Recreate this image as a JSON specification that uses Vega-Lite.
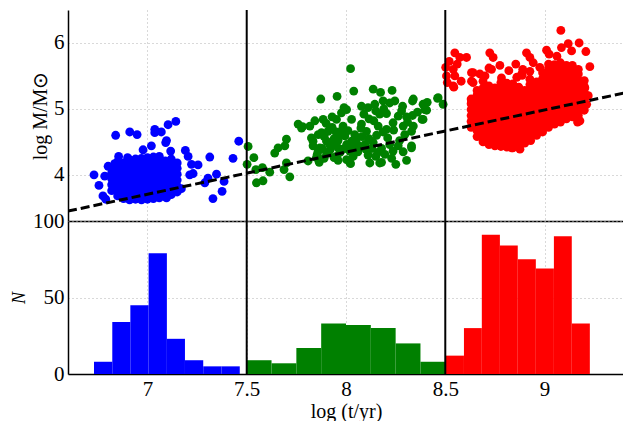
{
"$schema": "https://vega.github.io/schema/vega-lite/v6.json",
"background": "white",
"padding": {"left": 10, "top": 9, "right": 0, "bottom": 0},
"spacing": 0,
"bounds": "flush",
"config": {
  "view": {"stroke": null},
  "axis": {"domainColor": "black", "domainWidth": 1.5, "ticks": false, "grid": true, "gridColor": "#b3b3b3", "gridDash": [1, 3], "gridWidth": 1,
    "labelFont": "Liberation Serif", "labelFontSize": 21, "labelColor": "black",
    "titleFont": "Liberation Serif", "titleFontSize": 20, "titleFontWeight": "normal", "titleColor": "black"}
},
"datasets": {
  "splits": [{"b": 7.5}, {"b": 8.5}],
  "fit": [{"t": 6.6, "m": 3.45}, {"t": 9.4, "m": 5.24}],
  "hist": [
    {"t": 6.731, "t2": 6.823, "n": 8}, {"t": 6.823, "t2": 6.914, "n": 34}, {"t": 6.914, "t2": 7.006, "n": 45}, {"t": 7.006, "t2": 7.098, "n": 79},
    {"t": 7.098, "t2": 7.189, "n": 23}, {"t": 7.189, "t2": 7.281, "n": 9}, {"t": 7.281, "t2": 7.373, "n": 5}, {"t": 7.373, "t2": 7.465, "n": 5},
    {"t": 7.5, "t2": 7.625, "n": 9}, {"t": 7.625, "t2": 7.75, "n": 7}, {"t": 7.75, "t2": 7.875, "n": 17}, {"t": 7.875, "t2": 8.0, "n": 33},
    {"t": 8.0, "t2": 8.125, "n": 32}, {"t": 8.125, "t2": 8.25, "n": 30}, {"t": 8.25, "t2": 8.375, "n": 20}, {"t": 8.375, "t2": 8.5, "n": 8},
    {"t": 8.503, "t2": 8.594, "n": 12}, {"t": 8.594, "t2": 8.684, "n": 30}, {"t": 8.684, "t2": 8.775, "n": 91}, {"t": 8.775, "t2": 8.865, "n": 84},
    {"t": 8.865, "t2": 8.956, "n": 75}, {"t": 8.956, "t2": 9.047, "n": 69}, {"t": 9.047, "t2": 9.137, "n": 90}, {"t": 9.137, "t2": 9.228, "n": 33}
  ],
  "pts": [
    {"t":6.731,"m":4.00},{"t":6.756,"m":3.84},{"t":6.776,"m":3.68},{"t":6.79,"m":3.63},{"t":6.785,"m":3.98},{"t":6.802,"m":4.13},{"t":6.835,"m":4.17},{"t":6.84,"m":4.60},{"t":6.855,"m":4.28},{"t":6.90,"m":4.26},
    {"t":6.911,"m":4.65},{"t":6.948,"m":4.61},{"t":6.978,"m":4.38},{"t":7.02,"m":4.44},{"t":7.037,"m":4.64},{"t":7.07,"m":4.65},{"t":7.104,"m":4.76},{"t":7.143,"m":4.81},{"t":7.092,"m":4.49},{"t":7.117,"m":4.36},
    {"t":7.096,"m":4.52},{"t":7.191,"m":4.37},{"t":7.205,"m":4.28},{"t":7.222,"m":4.16},{"t":7.255,"m":4.15},{"t":7.314,"m":4.27},{"t":7.431,"m":4.25},{"t":7.46,"m":4.51},{"t":7.213,"m":4.00},{"t":7.23,"m":4.02},
    {"t":7.305,"m":3.95},{"t":7.348,"m":4.01},{"t":7.289,"m":3.88},{"t":7.386,"m":3.90},{"t":7.376,"m":3.75},{"t":7.33,"m":3.64},{"t":7.171,"m":3.79},{"t":7.138,"m":3.83},{"t":7.096,"m":3.65},{"t":7.037,"m":4.69},
    {"t":6.82,"m":3.76},{"t":6.82,"m":3.85},{"t":6.82,"m":3.94},{"t":6.82,"m":4.03},{"t":6.82,"m":4.10},
    {"t":6.85,"m":3.68},{"t":6.85,"m":3.77},{"t":6.85,"m":3.86},{"t":6.85,"m":3.95},{"t":6.85,"m":4.04},{"t":6.85,"m":4.13},{"t":6.85,"m":4.20},
    {"t":6.88,"m":3.64},{"t":6.88,"m":3.73},{"t":6.88,"m":3.82},{"t":6.88,"m":3.91},{"t":6.88,"m":4.00},{"t":6.88,"m":4.09},{"t":6.88,"m":4.18},
    {"t":6.91,"m":3.62},{"t":6.91,"m":3.71},{"t":6.91,"m":3.80},{"t":6.91,"m":3.89},{"t":6.91,"m":3.98},{"t":6.91,"m":4.07},{"t":6.91,"m":4.16},{"t":6.91,"m":4.23},
    {"t":6.94,"m":3.63},{"t":6.94,"m":3.72},{"t":6.94,"m":3.81},{"t":6.94,"m":3.90},{"t":6.94,"m":3.99},{"t":6.94,"m":4.08},{"t":6.94,"m":4.17},{"t":6.94,"m":4.24},
    {"t":6.97,"m":3.62},{"t":6.97,"m":3.71},{"t":6.97,"m":3.80},{"t":6.97,"m":3.89},{"t":6.97,"m":3.98},{"t":6.97,"m":4.07},{"t":6.97,"m":4.16},{"t":6.97,"m":4.25},
    {"t":7.00,"m":3.63},{"t":7.00,"m":3.72},{"t":7.00,"m":3.81},{"t":7.00,"m":3.90},{"t":7.00,"m":3.99},{"t":7.00,"m":4.08},{"t":7.00,"m":4.17},{"t":7.00,"m":4.26},
    {"t":7.03,"m":3.64},{"t":7.03,"m":3.73},{"t":7.03,"m":3.82},{"t":7.03,"m":3.91},{"t":7.03,"m":4.00},{"t":7.03,"m":4.09},{"t":7.03,"m":4.18},{"t":7.03,"m":4.27},
    {"t":7.06,"m":3.65},{"t":7.06,"m":3.74},{"t":7.06,"m":3.83},{"t":7.06,"m":3.92},{"t":7.06,"m":4.01},{"t":7.06,"m":4.10},{"t":7.06,"m":4.19},{"t":7.06,"m":4.28},
    {"t":7.09,"m":3.67},{"t":7.09,"m":3.76},{"t":7.09,"m":3.85},{"t":7.09,"m":3.94},{"t":7.09,"m":4.03},{"t":7.09,"m":4.12},{"t":7.09,"m":4.21},
    {"t":7.12,"m":3.70},{"t":7.12,"m":3.79},{"t":7.12,"m":3.88},{"t":7.12,"m":3.97},{"t":7.12,"m":4.06},{"t":7.12,"m":4.15},{"t":7.12,"m":4.24},
    {"t":7.15,"m":3.74},{"t":7.15,"m":3.83},{"t":7.15,"m":3.92},{"t":7.15,"m":4.01},{"t":7.15,"m":4.10},{"t":7.15,"m":4.18},

    {"t":7.507,"m":4.43},{"t":7.536,"m":4.26},{"t":7.502,"m":4.16},{"t":7.546,"m":4.08},{"t":7.579,"m":4.11},{"t":7.616,"m":4.04},{"t":7.549,"m":3.88},{"t":7.582,"m":3.91},
    {"t":7.641,"m":4.33},{"t":7.658,"m":4.41},{"t":7.692,"m":4.44},{"t":7.70,"m":4.54},{"t":7.70,"m":4.18},{"t":7.688,"m":4.08},{"t":7.717,"m":3.97},
    {"t":7.759,"m":4.77},{"t":7.776,"m":4.71},{"t":7.809,"m":4.21},{"t":7.865,"m":4.19},{"t":7.855,"m":4.31},{"t":7.873,"m":5.15},{"t":7.818,"m":4.74},{"t":7.843,"m":4.82},
    {"t":7.826,"m":4.56},{"t":7.834,"m":4.44},{"t":7.86,"m":4.36},{"t":7.781,"m":4.73},{"t":7.86,"m":4.61},{"t":7.834,"m":4.51},{"t":7.868,"m":4.41},{"t":7.851,"m":4.26},
    {"t":7.955,"m":5.19},{"t":7.885,"m":4.84},{"t":7.877,"m":4.64},{"t":7.918,"m":4.69},{"t":7.902,"m":4.51},{"t":7.935,"m":4.46},{"t":7.969,"m":4.59},{"t":7.952,"m":4.84},
    {"t":7.977,"m":4.94},{"t":7.91,"m":4.33},{"t":7.952,"m":4.28},{"t":7.99,"m":5.02},{"t":7.985,"m":4.74},{"t":7.994,"m":4.59},{"t":7.985,"m":4.39},{"t":7.91,"m":4.66},
    {"t":7.918,"m":4.46},{"t":7.96,"m":4.41},{"t":7.902,"m":4.33},{"t":7.94,"m":4.26},{"t":7.89,"m":4.58},{"t":7.93,"m":4.72},{"t":7.96,"m":4.52},{"t":7.88,"m":4.40},
    {"t":7.92,"m":4.38},{"t":7.95,"m":4.65},{"t":7.90,"m":4.78},{"t":7.97,"m":4.34},{"t":7.94,"m":4.55},{"t":7.89,"m":4.25},{"t":7.98,"m":4.68},{"t":7.93,"m":4.88},{"t":7.96,"m":4.22},
    {"t":8.023,"m":5.61},{"t":8.039,"m":5.27},{"t":8.003,"m":4.99},{"t":8.078,"m":5.04},{"t":8.111,"m":5.02},{"t":8.116,"m":4.85},{"t":8.028,"m":4.84},{"t":8.078,"m":4.77},
    {"t":8.103,"m":4.66},{"t":8.044,"m":4.61},{"t":8.003,"m":4.46},{"t":8.028,"m":4.51},{"t":8.061,"m":4.45},{"t":8.095,"m":4.46},{"t":8.019,"m":4.36},{"t":8.10,"m":4.39},
    {"t":8.036,"m":4.28},{"t":8.111,"m":4.30},{"t":8.003,"m":4.23},{"t":8.023,"m":4.17},{"t":8.12,"m":4.18},{"t":8.011,"m":4.44},{"t":8.019,"m":4.19},{"t":8.036,"m":4.41},
    {"t":8.075,"m":4.71},{"t":8.05,"m":4.53},{"t":8.08,"m":4.58},{"t":8.06,"m":4.35},{"t":8.09,"m":4.92},{"t":8.01,"m":4.67},{"t":8.115,"m":4.55},
    {"t":8.137,"m":5.30},{"t":8.174,"m":5.25},{"t":8.232,"m":5.28},{"t":8.145,"m":5.07},{"t":8.187,"m":5.12},{"t":8.22,"m":5.09},{"t":8.246,"m":5.12},{"t":8.204,"m":4.93},
    {"t":8.162,"m":4.74},{"t":8.237,"m":4.79},{"t":8.204,"m":4.69},{"t":8.154,"m":4.60},{"t":8.187,"m":4.65},{"t":8.137,"m":4.49},{"t":8.22,"m":4.46},{"t":8.179,"m":4.40},
    {"t":8.237,"m":4.36},{"t":8.15,"m":4.28},{"t":8.196,"m":4.31},{"t":8.179,"m":4.19},{"t":8.17,"m":4.18},{"t":8.14,"m":4.82},{"t":8.17,"m":4.92},{"t":8.21,"m":4.56},
    {"t":8.24,"m":4.68},{"t":8.16,"m":4.34},{"t":8.13,"m":4.40},{"t":8.23,"m":4.25},{"t":8.19,"m":5.00},{"t":8.15,"m":4.97},
    {"t":8.285,"m":5.04},{"t":8.335,"m":5.12},{"t":8.335,"m":4.90},{"t":8.305,"m":4.88},{"t":8.263,"m":4.89},{"t":8.288,"m":4.74},{"t":8.33,"m":4.66},{"t":8.296,"m":4.61},
    {"t":8.263,"m":4.44},{"t":8.33,"m":4.44},{"t":8.288,"m":4.35},{"t":8.251,"m":4.16},{"t":8.305,"m":4.22},{"t":8.33,"m":4.41},{"t":8.339,"m":5.15},{"t":8.339,"m":4.74},
    {"t":8.27,"m":4.52},{"t":8.31,"m":4.80},{"t":8.36,"m":4.95},{"t":8.28,"m":4.97},
    {"t":8.388,"m":5.07},{"t":8.409,"m":5.10},{"t":8.464,"m":5.17},{"t":8.489,"m":5.07},{"t":8.406,"m":4.98},{"t":8.383,"m":4.84},{"t":8.397,"m":4.99},{"t":8.388,"m":4.84},{"t":8.461,"m":5.16},

    {"t":8.502,"m":5.63},{"t":8.506,"m":5.50},{"t":8.548,"m":5.85},{"t":8.573,"m":5.78},{"t":8.607,"m":5.78},{"t":8.54,"m":5.60},{"t":8.548,"m":5.50},{"t":8.54,"m":5.35},
    {"t":8.52,"m":5.72},{"t":8.56,"m":5.68},{"t":8.58,"m":5.42},{"t":8.51,"m":5.40},
    {"t":8.724,"m":5.85},{"t":8.741,"m":5.78},{"t":8.775,"m":5.66},{"t":8.855,"m":5.68},{"t":8.632,"m":5.55},{"t":8.674,"m":5.53},{"t":8.64,"m":5.40},{"t":8.69,"m":5.42},
    {"t":8.733,"m":5.60},{"t":8.783,"m":5.47},{"t":8.724,"m":4.64},{"t":8.80,"m":4.51},{"t":8.834,"m":4.41},{"t":8.909,"m":5.85},{"t":8.926,"m":5.78},{"t":8.943,"m":5.70},
    {"t":9.01,"m":5.89},{"t":9.023,"m":5.83},{"t":9.082,"m":6.19},{"t":9.119,"m":5.99},{"t":9.174,"m":6.00},{"t":9.136,"m":5.88},{"t":9.208,"m":5.87},{"t":9.228,"m":5.64},
    {"t":9.062,"m":5.80},{"t":9.085,"m":5.93},{"t":8.885,"m":5.53},{"t":8.926,"m":5.57},{"t":8.976,"m":5.63},{"t":8.887,"m":5.51},{"t":8.926,"m":5.45},{"t":8.926,"m":5.37},
    {"t":9.22,"m":5.20},{"t":9.212,"m":5.07},{"t":9.203,"m":5.32},{"t":9.178,"m":4.82},{"t":9.069,"m":4.84},{"t":9.166,"m":4.80},{"t":8.876,"m":4.39},{"t":8.809,"m":4.46},
    {"t":8.64,"m":4.82},{"t":8.632,"m":5.12},{"t":8.632,"m":5.42},{"t":8.64,"m":5.55},{"t":8.543,"m":5.33},{"t":8.70,"m":5.50},{"t":8.82,"m":5.58},{"t":8.86,"m":5.48},{"t":8.89,"m":5.60},{"t":8.72,"m":5.62},
    {"t":8.63,"m":4.72},{"t":8.63,"m":4.81},{"t":8.63,"m":4.90},{"t":8.63,"m":4.99},{"t":8.63,"m":5.08},{"t":8.63,"m":5.15},
    {"t":8.66,"m":4.58},{"t":8.66,"m":4.67},{"t":8.66,"m":4.76},{"t":8.66,"m":4.85},{"t":8.66,"m":4.94},{"t":8.66,"m":5.03},{"t":8.66,"m":5.12},{"t":8.66,"m":5.21},{"t":8.66,"m":5.28},
    {"t":8.69,"m":4.50},{"t":8.69,"m":4.59},{"t":8.69,"m":4.68},{"t":8.69,"m":4.77},{"t":8.69,"m":4.86},{"t":8.69,"m":4.95},{"t":8.69,"m":5.04},{"t":8.69,"m":5.13},{"t":8.69,"m":5.22},{"t":8.69,"m":5.31},
    {"t":8.72,"m":4.46},{"t":8.72,"m":4.55},{"t":8.72,"m":4.64},{"t":8.72,"m":4.73},{"t":8.72,"m":4.82},{"t":8.72,"m":4.91},{"t":8.72,"m":5.00},{"t":8.72,"m":5.09},{"t":8.72,"m":5.18},{"t":8.72,"m":5.27},{"t":8.72,"m":5.35},
    {"t":8.75,"m":4.44},{"t":8.75,"m":4.52},{"t":8.75,"m":4.60},{"t":8.75,"m":4.69},{"t":8.75,"m":4.78},{"t":8.75,"m":4.87},{"t":8.75,"m":4.96},{"t":8.75,"m":5.05},{"t":8.75,"m":5.14},{"t":8.75,"m":5.23},{"t":8.75,"m":5.32},
    {"t":8.78,"m":4.43},{"t":8.78,"m":4.52},{"t":8.78,"m":4.61},{"t":8.78,"m":4.70},{"t":8.78,"m":4.79},{"t":8.78,"m":4.88},{"t":8.78,"m":4.97},{"t":8.78,"m":5.06},{"t":8.78,"m":5.15},{"t":8.78,"m":5.24},{"t":8.78,"m":5.33},{"t":8.78,"m":5.40},
    {"t":8.81,"m":4.42},{"t":8.81,"m":4.50},{"t":8.81,"m":4.58},{"t":8.81,"m":4.67},{"t":8.81,"m":4.76},{"t":8.81,"m":4.85},{"t":8.81,"m":4.94},{"t":8.81,"m":5.03},{"t":8.81,"m":5.12},{"t":8.81,"m":5.21},{"t":8.81,"m":5.30},{"t":8.81,"m":5.39},
    {"t":8.84,"m":4.41},{"t":8.84,"m":4.49},{"t":8.84,"m":4.57},{"t":8.84,"m":4.66},{"t":8.84,"m":4.75},{"t":8.84,"m":4.84},{"t":8.84,"m":4.93},{"t":8.84,"m":5.02},{"t":8.84,"m":5.11},{"t":8.84,"m":5.20},{"t":8.84,"m":5.29},{"t":8.84,"m":5.38},
    {"t":8.87,"m":4.42},{"t":8.87,"m":4.51},{"t":8.87,"m":4.60},{"t":8.87,"m":4.69},{"t":8.87,"m":4.78},{"t":8.87,"m":4.87},{"t":8.87,"m":4.96},{"t":8.87,"m":5.05},{"t":8.87,"m":5.14},{"t":8.87,"m":5.23},{"t":8.87,"m":5.33},
    {"t":8.90,"m":4.48},{"t":8.90,"m":4.56},{"t":8.90,"m":4.65},{"t":8.90,"m":4.74},{"t":8.90,"m":4.83},{"t":8.90,"m":4.92},{"t":8.90,"m":5.01},{"t":8.90,"m":5.10},{"t":8.90,"m":5.19},{"t":8.90,"m":5.28},
    {"t":8.93,"m":4.52},{"t":8.93,"m":4.61},{"t":8.93,"m":4.70},{"t":8.93,"m":4.79},{"t":8.93,"m":4.88},{"t":8.93,"m":4.97},{"t":8.93,"m":5.06},{"t":8.93,"m":5.15},{"t":8.93,"m":5.24},{"t":8.93,"m":5.32},
    {"t":8.96,"m":4.60},{"t":8.96,"m":4.69},{"t":8.96,"m":4.78},{"t":8.96,"m":4.87},{"t":8.96,"m":4.96},{"t":8.96,"m":5.05},{"t":8.96,"m":5.14},{"t":8.96,"m":5.23},{"t":8.96,"m":5.32},{"t":8.96,"m":5.41},
    {"t":8.99,"m":4.65},{"t":8.99,"m":4.74},{"t":8.99,"m":4.83},{"t":8.99,"m":4.92},{"t":8.99,"m":5.01},{"t":8.99,"m":5.10},{"t":8.99,"m":5.19},{"t":8.99,"m":5.28},{"t":8.99,"m":5.37},{"t":8.99,"m":5.46},{"t":8.99,"m":5.55},
    {"t":9.02,"m":4.72},{"t":9.02,"m":4.81},{"t":9.02,"m":4.90},{"t":9.02,"m":4.99},{"t":9.02,"m":5.08},{"t":9.02,"m":5.17},{"t":9.02,"m":5.26},{"t":9.02,"m":5.35},{"t":9.02,"m":5.44},{"t":9.02,"m":5.53},{"t":9.02,"m":5.62},{"t":9.02,"m":5.68},
    {"t":9.05,"m":4.77},{"t":9.05,"m":4.86},{"t":9.05,"m":4.95},{"t":9.05,"m":5.04},{"t":9.05,"m":5.13},{"t":9.05,"m":5.22},{"t":9.05,"m":5.31},{"t":9.05,"m":5.40},{"t":9.05,"m":5.49},{"t":9.05,"m":5.58},{"t":9.05,"m":5.67},
    {"t":9.08,"m":4.80},{"t":9.08,"m":4.89},{"t":9.08,"m":4.98},{"t":9.08,"m":5.07},{"t":9.08,"m":5.16},{"t":9.08,"m":5.25},{"t":9.08,"m":5.34},{"t":9.08,"m":5.43},{"t":9.08,"m":5.52},{"t":9.08,"m":5.61},{"t":9.08,"m":5.70},
    {"t":9.11,"m":4.85},{"t":9.11,"m":4.94},{"t":9.11,"m":5.03},{"t":9.11,"m":5.12},{"t":9.11,"m":5.21},{"t":9.11,"m":5.30},{"t":9.11,"m":5.39},{"t":9.11,"m":5.48},{"t":9.11,"m":5.57},{"t":9.11,"m":5.66},
    {"t":9.14,"m":4.88},{"t":9.14,"m":4.97},{"t":9.14,"m":5.06},{"t":9.14,"m":5.15},{"t":9.14,"m":5.24},{"t":9.14,"m":5.33},{"t":9.14,"m":5.42},{"t":9.14,"m":5.51},{"t":9.14,"m":5.60},{"t":9.14,"m":5.66},
    {"t":9.17,"m":4.90},{"t":9.17,"m":4.99},{"t":9.17,"m":5.08},{"t":9.17,"m":5.17},{"t":9.17,"m":5.26},{"t":9.17,"m":5.35},{"t":9.17,"m":5.44},{"t":9.17,"m":5.53},{"t":9.17,"m":5.60},
    {"t":9.20,"m":4.98},{"t":9.20,"m":5.07},{"t":9.20,"m":5.16},{"t":9.20,"m":5.25},{"t":9.20,"m":5.34},{"t":9.20,"m":5.43}
  ]
},
"vconcat": [
  {
    "width": 556, "height": 211,
    "layer": [
      {
        "data": {"name": "pts"},
        "mark": {"type": "circle", "size": 78, "opacity": 1},
        "encoding": {
          "x": {"field": "t", "type": "quantitative", "scale": {"domain": [6.6, 9.4], "nice": false, "zero": false},
                "axis": {"values": [7, 8, 9], "labels": false, "title": null}},
          "y": {"field": "m", "type": "quantitative", "scale": {"domain": [3.3, 6.5], "nice": false, "zero": false},
                "axis": {"values": [4, 5, 6], "labelExpr": "datum.value + ''", "labelPadding": 4, "titlePadding": 3, "title": "log M/M⊙"}},
          "color": {"field": "t", "type": "quantitative", "legend": null,
                    "scale": {"type": "threshold", "domain": [7.5, 8.5], "range": ["#0000ff", "#008000", "#ff0000"]}}
        }
      },
      {
        "data": {"name": "splits"},
        "mark": {"type": "rule", "color": "black", "strokeWidth": 2},
        "encoding": {"x": {"field": "b", "type": "quantitative"}}
      },
      {
        "data": {"name": "fit"},
        "mark": {"type": "line", "color": "black", "strokeWidth": 3, "strokeDash": [9, 4], "clip": true},
        "encoding": {"x": {"field": "t", "type": "quantitative"}, "y": {"field": "m", "type": "quantitative"}}
      }
    ]
  },
  {
    "width": 556, "height": 153,
    "layer": [
      {
        "data": {"name": "hist"},
        "mark": {"type": "rect"},
        "encoding": {
          "x": {"field": "t", "type": "quantitative", "scale": {"domain": [6.6, 9.4], "nice": false, "zero": false},
                "axis": {"values": [7, 7.5, 8, 8.5, 9], "labelExpr": "datum.value + ''", "labelPadding": 4, "titlePadding": 2, "title": "log (t/yr)"}},
          "x2": {"field": "t2"},
          "y": {"field": "n", "type": "quantitative", "scale": {"domain": [0, 100], "nice": false},
                "axis": {"values": [0, 50, 100], "labelExpr": "datum.value + ''", "labelPadding": 4, "titlePadding": 4.5, "title": "N", "titleFontStyle": "italic", "titleFontSize": 18}},
          "y2": {"datum": 0},
          "color": {"field": "t", "type": "quantitative", "legend": null,
                    "scale": {"type": "threshold", "domain": [7.5, 8.5], "range": ["#0000ff", "#008000", "#ff0000"]}}
        }
      },
      {
        "data": {"name": "splits"},
        "mark": {"type": "rule", "color": "black", "strokeWidth": 2},
        "encoding": {"x": {"field": "b", "type": "quantitative"}}
      }
    ]
  }
]
}
